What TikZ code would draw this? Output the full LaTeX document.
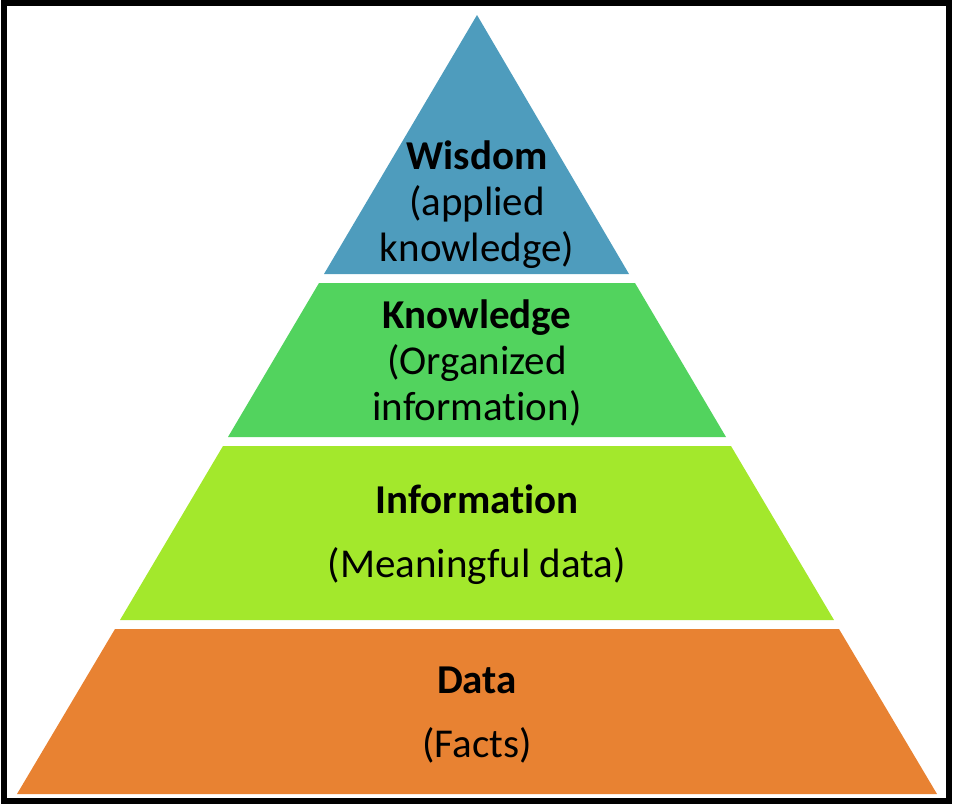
\documentclass[tikz,border=0pt]{standalone}
\usepackage{fontspec}
\setmainfont{Carlito}[RawFeature=-liga]
\definecolor{wisdomblue}{HTML}{4E9CBD}
\definecolor{knowgreen}{HTML}{52D35E}
\definecolor{infolime}{HTML}{A3E82C}
\definecolor{dataorange}{HTML}{E88232}
\begin{document}
\begin{tikzpicture}[x=1pt,y=-1pt,
  layer/.style={align=center,font=\fontsize{41}{46}\selectfont}]
 \useasboundingbox (0,0) rectangle (954,804);

 \fill [wisdomblue] (477,15) -- (629,274) -- (324,274) -- cycle;
 \fill [knowgreen] (319,283) -- (635,283) -- (726,437) -- (228,437) -- cycle;
 \fill [infolime] (223,446) -- (731,446) -- (834,620) -- (120,620) -- cycle;
 \fill [dataorange] (115,629) -- (839,629) -- (937,794) -- (17,794) -- cycle;

 \node (wisdom) at (477,205) [layer] {\textbf{Wisdom}\\(applied\\knowledge)};
 \node (knowledge) at (477,363) [layer] {\textbf{Knowledge}\\(Organized\\information)};
 \node (information) at (477,535) [layer] {\textbf{Information}\\[18pt](Meaningful data)};
 \node (data) at (477,715) [layer] {\textbf{Data}\\[18pt](Facts)};

 \draw [line width=6pt] (4,3) rectangle (949,801);
\end{tikzpicture}
\end{document}
